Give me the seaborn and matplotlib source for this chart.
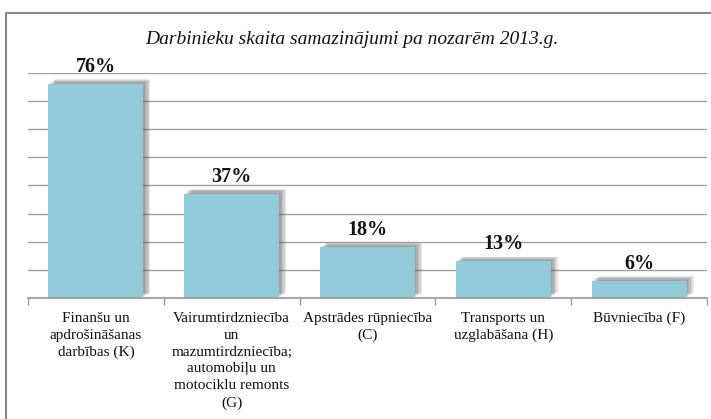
import matplotlib
matplotlib.use("Agg")
import matplotlib.pyplot as plt
import matplotlib.patheffects as pe
from matplotlib.patches import Rectangle
import pandas as pd
import seaborn as sns

sns.set_theme(style="white")
plt.rcParams['font.family'] = ['Liberation Serif', 'DejaVu Serif']

# data
categories = [
    "Finanšu un\napdrošināšanas\ndarbības (K)",
    "Vairumtirdzniecība\nun\nmazumtirdzniecība;\nautomobiļu un\nmotociklu remonts\n(G)",
    "Apstrādes rūpniecība\n(C)",
    "Transports un\nuzglabāšana (H)",
    "Būvniecība (F)",
]
values = [76, 37, 18, 13, 6]
title = "Darbinieku skaita samazinājumi pa nozarēm 2013.g."

df = pd.DataFrame({"nozare": categories, "proc": values})

W, H = 711, 419
fig = plt.figure(figsize=(W / 100, H / 100), dpi=100)
ax = fig.add_axes([28 / W, 1 - 298 / H, (707 - 28) / W, (298 - 73) / H])

sns.barplot(data=df, x="nozare", y="proc", color="#92CCDC", saturation=1,
            width=0.7, ax=ax, zorder=3)

# soft drop shadow (several faint offset copies)
shadow = [pe.SimplePatchShadow(offset=o, shadow_rgbFace="#444444", alpha=0.13)
          for o in [(1, 1), (2, 2), (3, 2.5), (4, 3), (5, 3.5)]]
for bar in ax.patches:
    bar.set_path_effects(shadow + [pe.Normal()])
    bar.set_linewidth(0)

ax.bar_label(ax.containers[0], labels=[f"{v}%" for v in values], padding=5,
             fontsize=14.5, fontweight="bold", color="#111111")

ax.set_ylim(0, 80)
ax.set_xlim(-0.5, 4.5)
ax.set_yticks(range(0, 81, 10))
ax.set_yticklabels([])
ax.yaxis.grid(True, color="#a0a0a0", linewidth=1)
ax.set_axisbelow(True)
ax.set_xlabel("")
ax.set_ylabel("")
for s in ["left", "right", "top"]:
    ax.spines[s].set_visible(False)
ax.spines["bottom"].set_color("#9a9a9a")
ax.spines["bottom"].set_zorder(4)
ax.tick_params(axis="y", length=0)
ax.tick_params(axis="x", which="major", length=0, pad=10, labelsize=11, colors="#111111")
ax.set_xticks([-0.5, 0.5, 1.5, 2.5, 3.5, 4.5], minor=True)
ax.tick_params(axis="x", which="minor", length=5, color="#9a9a9a", width=1, bottom=True)
for lbl in ax.get_xticklabels():
    lbl.set_linespacing(1.38)

fig.text(352 / W, 1 - 40 / H, title, ha="center", va="center", fontsize=14,
         style="italic", color="#111111")

fig.patches.append(Rectangle((6 / W, -0.05), 1.2, 1 - 13 / H + 0.05, transform=fig.transFigure,
                             fill=False, edgecolor="#8a8a8a", linewidth=1.5))

fig.savefig("out.png", dpi=100)
